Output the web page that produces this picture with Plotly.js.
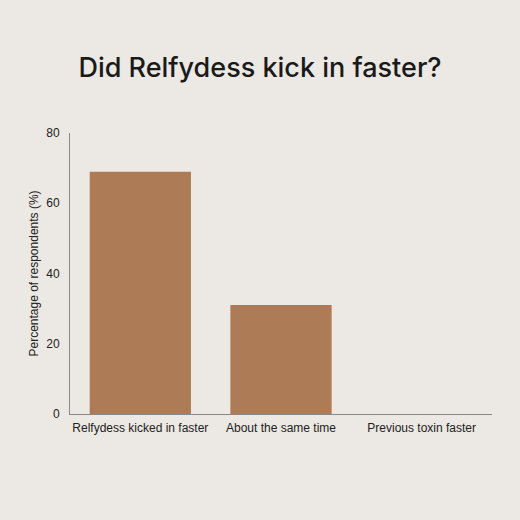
<!DOCTYPE html>
<html>
<head>
<meta charset="utf-8">
<script src="https://cdn.plot.ly/plotly-3.0.1.min.js"></script>
<style>
  html, body { margin: 0; padding: 0; background: #ece8e3; }
  #chart { width: 520px; height: 520px; }
</style>
</head>
<body>
<div id="chart"></div>
<script>
// answers and share of respondents (%)
var answers = ["Relfydess kicked in faster", "About the same time", "Previous toxin faster"];
var shares = [69, 31, 0];
var yTicks = [0, 20, 40, 60, 80];

var trace = {
    x: answers,
    y: shares,
    type: 'bar',
    marker: { color: '#ad7c56' },
    hoverinfo: 'x+y'
};

var layout = {
    width: 520,
    height: 520,
    paper_bgcolor: '#ece8e3',
    plot_bgcolor: '#ece8e3',
    margin: { l: 70, r: 28, t: 133, b: 106 },
    bargap: 0.28,
    showlegend: false,
    title: {
        text: 'Did Relfydess kick in faster?',
        font: { family: 'Inter, sans-serif', size: 27, weight: 500, color: '#1a1a1a' },
        x: 0.5,
        xanchor: 'center',
        y: 0.87,
        yanchor: 'middle'
    },
    font: { family: 'Liberation Sans, Arial, sans-serif', size: 12, color: '#222' },
    xaxis: {
        showline: true,
        linecolor: '#888',
        linewidth: 1,
        ticks: 'outside',
        ticklen: 3,
        tickcolor: 'rgba(0,0,0,0)',
        showgrid: false,
        zeroline: false,
        tickfont: { size: 12, color: '#222' }
    },
    yaxis: {
        range: [0, 80],
        tickvals: yTicks,
        showline: true,
        linecolor: '#888',
        linewidth: 1,
        ticks: 'outside',
        ticklen: 7,
        tickcolor: 'rgba(0,0,0,0)',
        showgrid: false,
        zeroline: false,
        tickfont: { size: 12, color: '#222' },
        title: {
            text: 'Percentage of respondents (%)',
            font: { size: 12, color: '#222' },
            standoff: 5
        }
    }
};

Plotly.newPlot('chart', [trace], layout, { displayModeBar: false, staticPlot: true });
</script>
</body>
</html>
